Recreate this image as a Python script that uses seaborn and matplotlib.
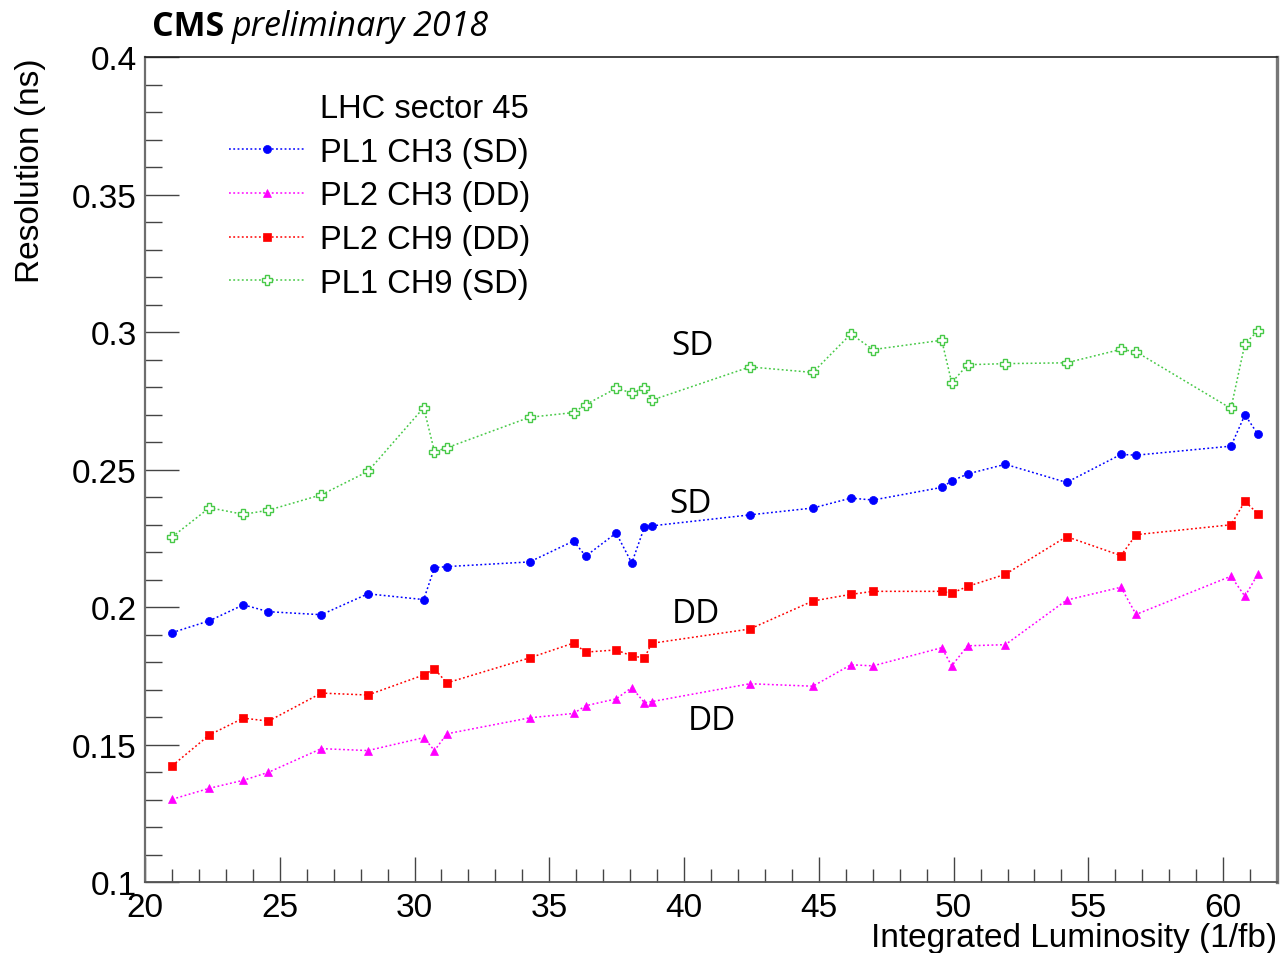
import matplotlib
matplotlib.use("Agg")
import matplotlib.pyplot as plt
import seaborn as sns
import pandas as pd
from matplotlib.lines import Line2D
from matplotlib.ticker import MultipleLocator, FuncFormatter

# ---------------- data ----------------
lumi = [21.01, 22.39, 23.65, 24.58, 26.54, 28.27, 30.34, 30.74, 31.20, 34.27,
        35.90, 36.35, 37.48, 38.06, 38.53, 38.80, 42.44, 44.78, 46.19, 47.01,
        49.56, 49.93, 50.52, 51.92, 54.19, 56.21, 56.77, 60.29, 60.81, 61.29]

pl1_ch3 = [0.1907, 0.1950, 0.2008, 0.1983, 0.1972, 0.2048, 0.2027, 0.2143, 0.2147, 0.2164,
           0.2240, 0.2185, 0.2269, 0.2160, 0.2291, 0.2295, 0.2335, 0.2360, 0.2396, 0.2389,
           0.2435, 0.2458, 0.2484, 0.2519, 0.2453, 0.2555, 0.2552, 0.2585, 0.2699, 0.2628]

pl2_ch3 = [0.1301, 0.1341, 0.1370, 0.1399, 0.1485, 0.1478, 0.1525, 0.1478, 0.1539, 0.1597,
           0.1613, 0.1641, 0.1666, 0.1707, 0.1652, 0.1656, 0.1721, 0.1712, 0.1790, 0.1786,
           0.1852, 0.1786, 0.1859, 0.1863, 0.2025, 0.2072, 0.1973, 0.2112, 0.2039, 0.2120]

pl2_ch9 = [0.1423, 0.1535, 0.1596, 0.1585, 0.1687, 0.1680, 0.1753, 0.1775, 0.1724, 0.1815,
           0.1869, 0.1836, 0.1844, 0.1822, 0.1815, 0.1868, 0.1920, 0.2022, 0.2046, 0.2057,
           0.2057, 0.2050, 0.2075, 0.2119, 0.2256, 0.2187, 0.2263, 0.2299, 0.2384, 0.2339]

pl1_ch9 = [0.2255, 0.2361, 0.2337, 0.2352, 0.2408, 0.2493, 0.2725, 0.2565, 0.2579, 0.2690,
           0.2707, 0.2736, 0.2795, 0.2779, 0.2797, 0.2752, 0.2873, 0.2853, 0.2993, 0.2936,
           0.2970, 0.2816, 0.2881, 0.2885, 0.2888, 0.2937, 0.2928, 0.2722, 0.2958, 0.3004]

series_labels = ["PL1 CH3 (SD)", "PL2 CH3 (DD)", "PL2 CH9 (DD)", "PL1 CH9 (SD)"]
series_values = [pl1_ch3, pl2_ch3, pl2_ch9, pl1_ch9]
legend_header = "LHC sector 45"

annot_texts = ["SD", "SD", "DD", "DD"]
annot_x = [40.31, 40.23, 40.42, 41.03]
annot_y = [0.2920, 0.2344, 0.1944, 0.1556]

x_label = "Integrated Luminosity (1/fb)"
y_label = "Resolution (ns)"

# ---------------- style ----------------
sns.set_style("white")
plt.rcParams["font.family"] = ["Liberation Sans", "DejaVu Sans"]
plt.rcParams["text.color"] = "black"
plt.rcParams["axes.labelcolor"] = "black"
plt.rcParams["xtick.color"] = "black"
plt.rcParams["ytick.color"] = "black"

df = pd.concat(
    [pd.DataFrame({"lumi": lumi, "res": v, "series": lab})
     for lab, v in zip(series_labels, series_values)],
    ignore_index=True)

styles = {
    "PL1 CH3 (SD)": dict(color="#0000ff", marker="o", markersize=5.8, markerfacecolor="#0000ff", markeredgewidth=0.5),
    "PL2 CH3 (DD)": dict(color="#ff00ff", marker="^", markersize=5.4, markerfacecolor="#ff00ff", markeredgewidth=0.5),
    "PL2 CH9 (DD)": dict(color="#ff0000", marker="s", markersize=5.5, markerfacecolor="#ff0000", markeredgewidth=0.5),
    "PL1 CH9 (SD)": dict(color="#47c947", marker="P", markersize=6.6, markerfacecolor="white", markeredgewidth=1.0),
}

fig = plt.figure(figsize=(12.81, 9.54), dpi=100)
ax = fig.add_axes([0.1132, 0.0744, 0.8837, 0.8648])

for lab in series_labels:
    st = styles[lab]
    sns.lineplot(data=df[df["series"] == lab], x="lumi", y="res", ax=ax,
                 color=st["color"], marker=st["marker"], markersize=st["markersize"],
                 markerfacecolor=st["markerfacecolor"], markeredgecolor=st["color"],
                 markeredgewidth=st["markeredgewidth"],
                 linestyle=(0, (1.2, 1.6)), linewidth=1.1,
                 label=lab, sort=False, errorbar=None)

ax.set_xlim(20, 62)
ax.set_ylim(0.1, 0.4)

ax.xaxis.set_major_locator(MultipleLocator(5))
ax.xaxis.set_minor_locator(MultipleLocator(1))
ax.yaxis.set_major_locator(MultipleLocator(0.05))
ax.yaxis.set_minor_locator(MultipleLocator(0.01))
ax.yaxis.set_major_formatter(FuncFormatter(lambda v, p: f"{v:g}"))

ax.tick_params(which="both", direction="in", bottom=True, left=True, top=False, right=False,
               color="#444444", labelcolor="black", width=1.0)
ax.tick_params(axis="y", which="major", length=24.5, labelsize=24, pad=6)
ax.tick_params(axis="y", which="minor", length=12)
ax.tick_params(axis="x", which="major", length=18, labelsize=24, pad=7)
ax.tick_params(axis="x", which="minor", length=9.4)

for side, col, lw in [("left", "#6e6e6e", 1.6), ("bottom", "#555555", 1.3),
                      ("top", "#222222", 1.2), ("right", "#777777", 2.4)]:
    ax.spines[side].set_visible(True)
    ax.spines[side].set_color(col)
    ax.spines[side].set_linewidth(lw)

ax.set_xlabel(x_label, fontsize=24, loc="right", color="black")
ax.xaxis.set_label_coords(1.0, -0.049)
ax.set_ylabel(y_label, fontsize=24, loc="top", color="black")
ax.yaxis.set_label_coords(-0.0875, 1.0)

# legend
header = Line2D([], [], linestyle="none", color="none")
handles, labels = ax.get_legend_handles_labels()
leg = ax.legend([header] + handles, [legend_header] + labels,
                loc="upper left", bbox_to_anchor=(0.0742, 0.9564), frameon=False,
                fontsize=23.5, handlelength=2.33, handletextpad=0.46, labelspacing=0.39,
                borderpad=0, borderaxespad=0, numpoints=1)
for txt in leg.get_texts():
    txt.set_color("black")

for t, x, y in zip(annot_texts, annot_x, annot_y):
    ax.text(x, y, t, ha="center", va="baseline", fontsize=24, family="Open Sans", color="black")

fig.text(152 / 1281, 1 - 36 / 954, "CMS", fontweight="bold", fontsize=24.5,
         family="Open Sans", ha="left", va="baseline", color="black")
fig.text(232 / 1281, 1 - 36 / 954, "preliminary 2018", style="italic", fontsize=24.5,
         family="Open Sans", ha="left", va="baseline", color="black")

fig.savefig("out.png", dpi=100)
